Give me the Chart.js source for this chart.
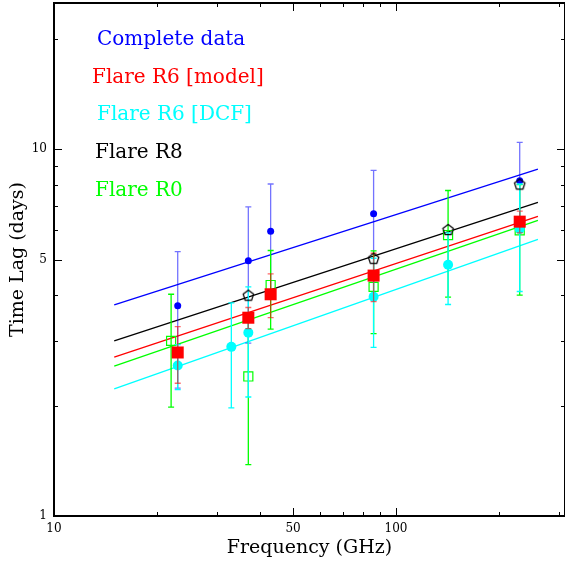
<!DOCTYPE html>
<html>
<head>
<meta charset="utf-8">
<script src="https://cdn.jsdelivr.net/npm/chart.js@4.4.1/dist/chart.umd.min.js"></script>
<style>
  html, body { margin: 0; padding: 0; background: #fff; }
</style>
</head>
<body>
<canvas id="lagChart" width="565" height="563"></canvas>
<script>
// frequencies (GHz), lags (days) and symmetric errors
var completeFreq = [23, 37, 43, 86, 230];
var completeLag = [3.74, 4.96, 5.97, 6.66, 8.2];
var completeErr = [1.51, 2.0, 2.06, 2.09, 2.23];

var modelFreq = [23, 37, 43, 86, 230];
var modelLag = [2.79, 3.47, 4.02, 4.52, 6.34];
var modelErr = [0.49, 0.23, 0.55, 0.68, 0.43];

var dcfFreq = [23, 33, 37, 86, 142, 230];
var dcfLag = [2.57, 2.89, 3.16, 3.96, 4.84, 6.06];
var dcfErr = [0.36, 0.92, 1.05, 1.08, 1.07, 1.97];

var r8Freq = [37, 86, 142, 230];
var r8Lag = [4.0, 5.04, 6.04, 8.03];

var r0Freq = [22, 37, 43, 86, 142, 230];
var r0Lag = [3.0, 2.40, 4.26, 4.21, 5.83, 6.0];
var r0Err = [1.02, 1.02, 1.03, 1.07, 1.88, 2.0];

// power-law fits, given at their two end frequencies
var fitFreq = [15, 260];
var completeFit = [3.76, 8.81];
var modelFit = [2.71, 6.55];
var dcfFit = [2.22, 5.67];
var r8Fit = [3.0, 7.16];
var r0Fit = [2.56, 6.39];

var xTicks = [10, 20, 30, 40, 50, 60, 70, 80, 90, 100, 200, 300];
var xLabels = [10, 50, 100];
var yTicks = [1, 2, 3, 4, 5, 6, 7, 8, 9, 10, 20];
var yLabels = [1, 5, 10];

var legendNames = ['Complete data', 'Flare R6 [model]', 'Flare R6 [DCF]', 'Flare R8', 'Flare R0'];

var BLUE = '#0000ff', RED = '#ff0000', CYAN = '#00ffff', BLACK = '#000000', GREEN = '#00ff00';

function toPoints(xs, ys, errs) {
    return xs.map(function (x, i) {
        return { x: x, y: ys[i], err: errs ? errs[i] : 0 };
    });
}

// hollow pentagon marker for Flare R8
function pentagon(r) {
    var c = document.createElement('canvas');
    var s = Math.ceil(r * 2 + 4);
    c.width = s; c.height = s;
    var g = c.getContext('2d');
    g.strokeStyle = BLACK;
    g.lineWidth = 1.2;
    g.beginPath();
    for (var i = 0; i < 5; i++) {
        var a = -Math.PI / 2 + i * 2 * Math.PI / 5;
        var px = s / 2 + r * Math.cos(a), py = s / 2 + 0.6 + r * Math.sin(a);
        if (i === 0) g.moveTo(px, py); else g.lineTo(px, py);
    }
    g.closePath();
    g.stroke();
    return c;
}

function fitLine(ys, color, order) {
    return {
        data: toPoints(fitFreq, ys),
        showLine: true,
        borderColor: color,
        borderWidth: 1.3,
        pointRadius: 0,
        order: order
    };
}

// keep the plot box fixed: no extra room for half labels
function noPadding(scale) {
    scale.paddingTop = 0;
    scale.paddingBottom = 0;
    scale.paddingLeft = 0;
    scale.paddingRight = 0;
}

// vertical error bars, drawn just under each dataset's markers
var errorBars = {
    id: 'errorBars',
    beforeDatasetDraw: function (chart, args) {
        var ds = chart.data.datasets[args.index];
        if (!ds.errorColor) return;
        var ctx = chart.ctx, ys = chart.scales.y, area = chart.chartArea;
        ctx.save();
        ctx.beginPath();
        ctx.rect(area.left, area.top, area.right - area.left, area.bottom - area.top);
        ctx.clip();
        ctx.strokeStyle = ds.errorColor;
        ctx.lineWidth = 1.3;
        args.meta.data.forEach(function (pt, i) {
            var d = ds.data[i];
            if (!d.err) return;
            var top = ys.getPixelForValue(d.y + d.err);
            var bot = ys.getPixelForValue(d.y - d.err);
            ctx.beginPath();
            ctx.moveTo(pt.x, top); ctx.lineTo(pt.x, bot);
            ctx.moveTo(pt.x - 3, top); ctx.lineTo(pt.x + 3, top);
            ctx.moveTo(pt.x - 3, bot); ctx.lineTo(pt.x + 3, bot);
            ctx.stroke();
        });
        ctx.restore();
    }
};

// box with inward ticks on all four sides
var frameTicks = {
    id: 'frameTicks',
    beforeDatasetsDraw: function (chart) {
        var ctx = chart.ctx, a = chart.chartArea;
        var xs = chart.scales.x, ys = chart.scales.y;
        ctx.save();
        ctx.strokeStyle = BLACK;
        ctx.lineWidth = 1;
        ctx.beginPath();
        xTicks.forEach(function (v) {
            var px = Math.round(xs.getPixelForValue(v)) + 0.5;
            var len = xLabels.indexOf(v) >= 0 ? 8 : 4;
            ctx.moveTo(px, a.bottom); ctx.lineTo(px, a.bottom - len);
            ctx.moveTo(px, a.top); ctx.lineTo(px, a.top + len);
        });
        yTicks.forEach(function (v) {
            var py = Math.round(ys.getPixelForValue(v)) + 0.5;
            var len = yLabels.indexOf(v) >= 0 ? 8 : 4;
            ctx.moveTo(a.left, py); ctx.lineTo(a.left + len, py);
            ctx.moveTo(a.right, py); ctx.lineTo(a.right - len, py);
        });
        ctx.stroke();
        ctx.lineWidth = 2;
        ctx.strokeRect(a.left, a.top, a.right - a.left, a.bottom - a.top);
        ctx.restore();
    }
};

// coloured legend text in the upper left of the plot
var textLegend = {
    id: 'textLegend',
    afterDraw: function (chart) {
        var ctx = chart.ctx;
        var colors = [BLUE, RED, CYAN, BLACK, GREEN];
        var xPos = [97, 92, 97, 95, 95];
        var yPos = [45, 83, 120, 158, 196];
        ctx.save();
        ctx.font = '20px "DejaVu Serif"';
        ctx.textAlign = 'left';
        ctx.textBaseline = 'alphabetic';
        legendNames.forEach(function (name, i) {
            ctx.fillStyle = colors[i];
            ctx.fillText(name, xPos[i], yPos[i]);
        });
        ctx.restore();
    }
};

var ctx = document.getElementById('lagChart').getContext('2d');
var lagChart = new Chart(ctx, {
    type: 'scatter',
    plugins: [errorBars, frameTicks, textLegend],
    data: {
        datasets: [
            fitLine(completeFit, BLUE, 10),
            fitLine(r8Fit, BLACK, 10),
            fitLine(modelFit, RED, 10),
            fitLine(r0Fit, GREEN, 10),
            fitLine(dcfFit, CYAN, 10),
            {
                label: legendNames[0],
                data: toPoints(completeFreq, completeLag, completeErr),
                errorColor: 'rgba(0, 0, 255, 0.55)',
                pointStyle: 'circle',
                pointRadius: 3.5,
                backgroundColor: BLUE,
                borderColor: BLUE,
                borderWidth: 0,
                order: 5
            },
            {
                label: legendNames[4],
                data: toPoints(r0Freq, r0Lag, r0Err),
                errorColor: GREEN,
                pointStyle: 'rect',
                pointRadius: 6.4,
                backgroundColor: 'rgba(0,0,0,0)',
                borderColor: GREEN,
                borderWidth: 1.2,
                order: 4
            },
            {
                label: legendNames[2],
                data: toPoints(dcfFreq, dcfLag, dcfErr),
                errorColor: CYAN,
                pointStyle: 'circle',
                pointRadius: 5,
                backgroundColor: CYAN,
                borderColor: CYAN,
                borderWidth: 0,
                order: 3
            },
            {
                label: legendNames[1],
                data: toPoints(modelFreq, modelLag, modelErr),
                errorColor: 'rgba(255, 0, 0, 0.6)',
                pointStyle: 'rect',
                pointRadius: 8.5,
                backgroundColor: RED,
                borderColor: RED,
                borderWidth: 0,
                order: 2
            },
            {
                label: legendNames[3],
                data: toPoints(r8Freq, r8Lag),
                pointStyle: pentagon(5.5),
                order: 1
            }
        ]
    },
    options: {
        responsive: false,
        animation: false,
        events: [],
        layout: { autoPadding: false, padding: { top: 3, right: 0, left: 0, bottom: 0 } },
        scales: {
            x: {
                type: 'logarithmic',
                min: 10,
                max: 312,
                afterFit: function (scale) { scale.height = 47; noPadding(scale); },
                afterBuildTicks: function (scale) {
                    scale.ticks = xTicks.map(function (v) { return { value: v }; });
                },
                grid: { display: false, drawTicks: false },
                border: { display: false },
                ticks: {
                    autoSkip: false,
                    maxRotation: 0,
                    padding: 6,
                    color: BLACK,
                    font: { family: 'DejaVu Serif', size: 12 },
                    callback: function (v) { return xLabels.indexOf(v) >= 0 ? String(v) : ''; }
                },
                title: {
                    display: true,
                    text: 'Frequency (GHz)',
                    color: BLACK,
                    font: { family: 'DejaVu Serif', size: 19 },
                    padding: { top: 0, bottom: 4 }
                }
            },
            y: {
                type: 'logarithmic',
                min: 1,
                max: 25,
                afterFit: function (scale) { scale.width = 54; noPadding(scale); },
                afterBuildTicks: function (scale) {
                    scale.ticks = yTicks.map(function (v) { return { value: v }; });
                },
                grid: { display: false, drawTicks: false },
                border: { display: false },
                ticks: {
                    autoSkip: false,
                    padding: 7,
                    color: BLACK,
                    font: { family: 'DejaVu Serif', size: 12 },
                    callback: function (v) { return yLabels.indexOf(v) >= 0 ? String(v) : ''; }
                },
                title: {
                    display: true,
                    text: 'Time Lag (days)',
                    color: BLACK,
                    font: { family: 'DejaVu Serif', size: 19 },
                    padding: { top: 7, bottom: 0 }
                }
            }
        },
        plugins: {
            legend: { display: false },
            tooltip: { enabled: false }
        }
    }
});
</script>
</body>
</html>
